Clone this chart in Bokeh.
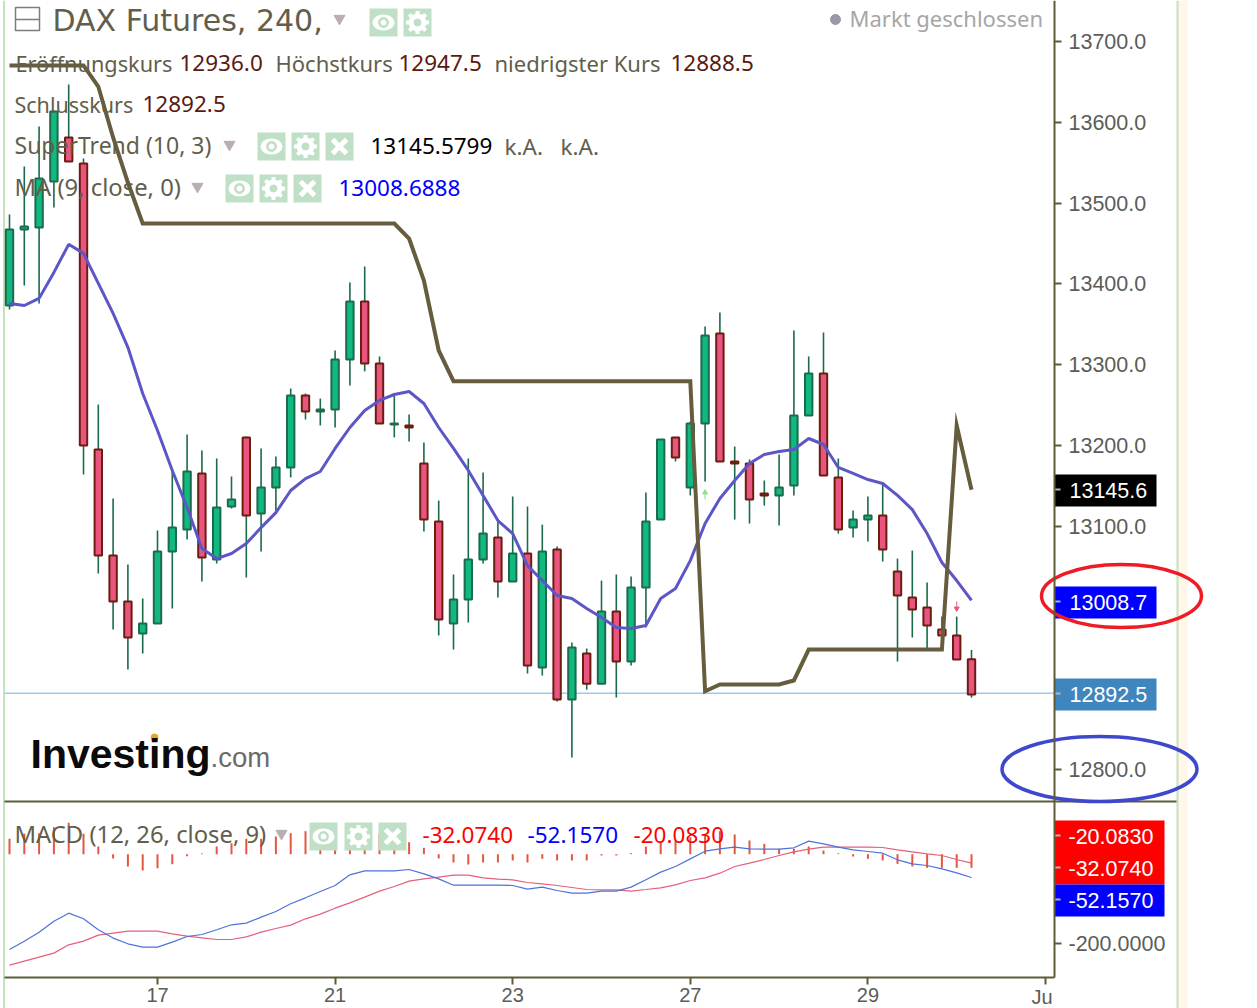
from bokeh.plotting import figure
from bokeh.embed import file_html
from bokeh.resources import INLINE
from bokeh.models import Range1d, LinearAxis, FixedTicker, Label

# ---------- data ----------
open_ = [13373.3,13467.3,13469.7,13526.6,13581.0,13548.8,13195.3,13064.2,13007.4,12967.8,12980.2,13069.2,13096.4,13165.7,13059.3,13124.8,13210.2,13116.1,13148.4,13173.1,13262.1,13242.3,13244.8,13306.6,13378.3,13301.7,13226.2,13225.0,13178.0,13106.3,12980.2,13009.8,13059.3,13086.5,13032.1,13066.7,12925.8,13071.6,12886.2,12943.1,12905.9,12995.0,12933.2,13024.7,13108.7,13210.2,13148.4,13227.5,13338.7,13180.5,13178.0,13140.9,13138.5,13150.8,13237.4,13289.2,13160.7,13098.8,13108.7,13113.7,13044.4,13012.3,12999.9,12972.8,12965.4,12936.0]
high = [13485.8,13545.1,13594.6,13614.3,13646.5,13555.0,13251.0,13134.8,13053.1,13011.1,13095.1,13169.4,13213.9,13194.1,13184.2,13162.0,13211.4,13196.6,13186.7,13270.7,13264.5,13258.2,13317.7,13401.7,13421.5,13310.3,13264.5,13238.6,13204.0,13132.2,13040.8,13184.2,13166.9,13107.5,13137.2,13124.8,13102.5,13075.4,12956.7,12949.3,13033.3,13040.8,13038.3,13142.2,13207.7,13210.2,13229.9,13347.4,13364.7,13199.0,13183.0,13157.0,13189.2,13342.4,13310.3,13339.9,13184.2,13119.9,13137.2,13154.5,13060.5,13070.4,13030.9,12988.8,12988.8,12947.5]
low = [13368.4,13398.0,13375.8,13494.4,13551.3,13164.4,13042.0,12972.8,12923.3,12943.1,12980.2,12998.7,13084.0,13032.1,13054.3,13122.3,13037.0,13069.2,13116.1,13160.7,13232.4,13225.0,13222.5,13274.4,13291.8,13227.5,13210.2,13205.2,13093.9,12965.4,12948.0,12981.4,13054.3,13012.3,13032.1,12918.4,12915.9,12883.8,12814.5,12898.4,12905.9,12888.7,12928.3,12975.2,13108.7,13180.5,13138.5,13155.8,13180.5,13108.7,13103.8,13126.0,13101.3,13138.5,13237.4,13163.2,13091.4,13086.5,13081.5,13056.8,12933.2,12962.9,12949.3,12950.5,12935.7,12888.5]
close = [13467.3,13471.0,13530.3,13613.1,13551.3,13200.3,13064.2,13007.4,12962.9,12980.2,13069.2,13098.8,13168.1,13061.7,13123.5,13133.5,13113.7,13148.4,13173.1,13262.1,13242.3,13244.8,13306.6,13378.3,13301.7,13227.5,13227.5,13222.5,13108.7,12985.1,13009.8,13059.3,13091.4,13032.1,13066.7,12928.3,13069.2,12886.2,12950.5,12905.9,12995.0,12933.2,13024.7,13106.3,13207.7,13185.5,13227.5,13336.3,13180.5,13178.0,13133.5,13138.5,13148.4,13237.4,13289.2,13163.2,13096.4,13108.7,13113.7,13071.6,13014.8,12997.5,12977.7,12965.4,12935.7,12892.5]
ma = [13375.8,13373.3,13382.1,13414.2,13448.9,13437.7,13400.7,13363.6,13321.6,13264.5,13218.8,13169.4,13123.5,13072.9,13060.5,13066.7,13079.0,13098.8,13117.3,13144.6,13159.4,13168.1,13196.6,13222.5,13243.5,13255.9,13263.3,13267.0,13252.2,13222.5,13196.6,13169.4,13138.5,13107.5,13091.4,13051.8,13033.3,13014.8,13011.1,12998.7,12987.6,12975.2,12974.0,12977.7,13011.1,13023.5,13058.0,13103.8,13134.8,13157.0,13178.0,13189.2,13192.8,13195.3,13208.9,13201.5,13173.1,13165.7,13158.2,13153.3,13138.5,13121.0,13091.4,13055.6,13033.3,13008.7]
supertrend = [13670.0,13670.0,13670.0,13670.0,13670.0,13670.0,13644.0,13581.0,13525.3,13474.6,13474.6,13474.6,13474.6,13474.6,13474.6,13474.6,13474.6,13474.6,13474.6,13474.6,13474.6,13474.6,13474.6,13474.6,13474.6,13474.6,13474.6,13456.1,13404.2,13317.7,13279.7,13279.7,13279.7,13279.7,13279.7,13279.7,13279.7,13279.7,13279.7,13279.7,13279.7,13279.7,13279.7,13279.7,13279.7,13279.7,13279.7,12896.5,12904.8,12904.8,12904.8,12904.8,12904.8,12909.8,12948.0,12948.0,12948.0,12948.0,12948.0,12948.0,12948.0,12948.0,12948.0,12948.0,13225.0,13145.6]
macd_line = [-213.4,-194.8,-174.6,-150.0,-132.1,-144.7,-169.3,-187.9,-200.7,-208.2,-208.2,-197.0,-184.3,-179.8,-169.3,-158.1,-154.4,-141.0,-128.3,-111.1,-97.7,-83.5,-70.1,-46.2,-37.3,-37.3,-37.3,-34.3,-44.0,-55.2,-69.4,-69.4,-69.4,-69.4,-70.1,-78.3,-73.8,-81.3,-87.3,-87.3,-82.8,-82.8,-73.8,-57.4,-40.2,-27.5,-10.4,6.8,12.0,15.8,12.0,11.3,11.3,14.3,29.2,23.2,15.8,9.8,6.0,2.3,-12.6,-21.6,-25.3,-32.8,-41.7,-52.2]
signal_line = [-248.5,-239.6,-230.6,-221.6,-203.0,-194.8,-181.3,-176.8,-172.4,-172.4,-172.4,-178.3,-183.6,-187.3,-191.0,-191.0,-185.1,-174.6,-166.4,-158.9,-144.7,-134.3,-120.9,-108.9,-96.2,-82.8,-72.3,-60.4,-55.2,-51.4,-47.0,-47.0,-52.9,-55.9,-57.4,-63.4,-66.4,-70.1,-74.6,-79.1,-79.8,-79.8,-82.8,-79.1,-75.3,-68.6,-58.9,-52.9,-42.5,-27.5,-20.1,-11.9,-2.9,5.3,11.3,15.8,15.8,15.8,15.8,15.0,9.8,5.3,0.8,-2.9,-11.9,-20.1]
hist = [34.4,45.6,47.1,60.5,70.2,45.6,17.2,-9.6,-27.5,-36.5,-31.3,-22.3,-4.4,1.5,17.2,24.7,34.4,34.4,39.6,47.1,51.6,51.6,53.1,62.0,58.3,44.1,34.4,26.9,14.3,-9.6,-18.6,-23.1,-18.6,-18.6,-14.1,-18.6,-10.4,-14.1,-14.1,-14.1,-2.9,-2.9,2.3,17.2,26.9,30.7,38.1,45.6,51.6,44.1,30.7,23.2,12.0,12.0,17.2,8.3,2.0,-5.2,-10.4,-14.1,-21.6,-27.5,-30.5,-30.5,-30.5,-30.5]
price_ticks = [13700,13600,13500,13400,13300,13200,13100,12800]
date_ticks = {10:"17",22:"21",34:"23",46:"27",58:"29",70:""}

# ---------- pixel helpers for annotations ----------
W, H = 1257, 1008
def X(px): return (px-9)/14.8
def Y(py): return 13700-(py-40.7)/0.809
def MY(py): return (853.7-py)/0.4465

OLIVE = "#5f5a38"; GREY = "#625e4c"; TXT = "#5c5c58"; DKRED = "#5a1a10"
SANS = "Noto Sans"; ARIAL = "Liberation Sans"; ICON = "#bfe0c6"

p = figure(width=W, height=H, output_backend="svg", toolbar_location=None,
           x_range=Range1d(X(0),X(W)), y_range=Range1d(Y(H),Y(0)),
           x_axis_type=None, y_axis_type=None, min_border=0,
           outline_line_color=None, background_fill_color="white",
           styles={"position":"absolute","left":"0px","top":"0px"})
p.grid.visible = False
p.extra_y_ranges = {"macd": Range1d(MY(H),MY(0))}

# side strips
p.quad(left=[X(1177)],right=[X(1187)],top=[Y(0)],bottom=[Y(H)],fill_color="#fff7ea",line_color=None)
p.segment([X(3.5),X(1177)],[Y(0),Y(0)],[X(3.5),X(1177)],[Y(H),Y(H)],line_color="#c4e2bc",line_width=2)

# last-price line
p.segment([X(4)],[Y(692.8)],[X(1054)],[Y(692.8)],line_color="#a0c9ee",line_width=1.5)

# candles
idx = list(range(len(close)))
up = [c>=o for o,c in zip(open_,close)]
p.segment(idx,high,idx,low,line_color="#1b6b4a",line_width=1.6)
for flag,fill,edge in ((True,"#0fb97f","#1d6b4c"),(False,"#e9557f","#6d1d10")):
    ii=[i for i in idx if up[i]==flag]
    p.vbar(x=ii,width=0.5,top=[max(open_[i],close[i]) for i in ii],
           bottom=[min(open_[i],close[i]) for i in ii],fill_color=fill,line_color=edge,line_width=2)

p.line(idx,ma,line_color="#5c56c6",line_width=3)
p.line(idx,supertrend,line_color="#655d3e",line_width=4,line_join="miter")

# signals
p.segment([47],[Y(490)],[47],[Y(499)],line_color="#9be39b",line_width=1.2)
p.scatter([47],[Y(492)],marker="triangle",size=5,color="#8fe08f")
p.segment([64],[Y(601)],[64],[Y(610)],line_color="#ee7a98",line_width=1.2)
p.scatter([64],[Y(608)],marker="inverted_triangle",size=5,color="#e85a78")

# MACD pane
p.segment(idx,[0]*len(idx),idx,hist,y_range_name="macd",line_color="#e2583e",line_width=2)
p.line(idx,signal_line,y_range_name="macd",line_color="#e4607c",line_width=1.2)
p.line(idx,macd_line,y_range_name="macd",line_color="#4f72d8",line_width=1.2)

# pane divider
p.segment([X(4)],[Y(801)],[X(1176)],[Y(801)],line_color=OLIVE,line_width=2)

# axis value boxes
def box(x0,x1,y0,y1,c):
    p.quad(left=[X(x0)],right=[X(x1)],top=[Y(y0)],bottom=[Y(y1)],fill_color=c,line_color=None)
box(1054,1156,474,506,"#000000")
box(1054,1156,586,618,"#0000ff")
box(1054,1156,678,710,"#3f86bf")
box(1054,1164,820,884,"#ff0000")
box(1054,1164,884,916,"#0000ff")

# axes
price_ax = LinearAxis(ticker=FixedTicker(ticks=price_ticks),fixed_location=X(1054),
    major_label_overrides={t:f"{t:.1f}" for t in price_ticks},bounds=(Y(801),Y(0)))
macd_ax = LinearAxis(y_range_name="macd",ticker=FixedTicker(ticks=[-200]),fixed_location=X(1054),
    major_label_overrides={-200:"-200.0000"},bounds=(MY(977),MY(801)))
date_ax = LinearAxis(ticker=FixedTicker(ticks=list(date_ticks)),fixed_location=Y(977),
    major_label_overrides=date_ticks,bounds=(X(4),X(1054)))
for ax in (price_ax,macd_ax,date_ax):
    ax.axis_line_color=OLIVE; ax.axis_line_width=2
    ax.major_tick_line_color=OLIVE; ax.major_tick_line_width=2
    ax.major_tick_out=7; ax.major_tick_in=0; ax.minor_tick_line_color=None
    ax.major_label_text_font=ARIAL; ax.major_label_text_font_size="21.5px"
    ax.major_label_text_color=TXT; ax.major_label_standoff=7
date_ax.major_label_text_font_size="20px"; date_ax.major_label_standoff=3
p.add_layout(price_ax,"right"); p.add_layout(macd_ax,"right"); p.add_layout(date_ax,"below")

# grey ticks of the value boxes
tick_y=[489,601,693,835,867,899]
p.segment([X(1054)]*6,[Y(v) for v in tick_y],[X(1060)]*6,[Y(v) for v in tick_y],line_color="#b5b5b5",line_width=2)

# ellipses
p.ellipse(x=[X(1121)],y=[Y(595.5)],width=[160],height=[63],width_units="screen",height_units="screen",
          fill_color=None,line_color="#ee1c25",line_width=3.5)
p.ellipse(x=[X(1099)],y=[Y(768.5)],width=[195],height=[65],width_units="screen",height_units="screen",
          fill_color=None,line_color="#3f48cc",line_width=3.5)

# header decorations
p.quad(left=[X(15)],right=[X(39)],top=[Y(7)],bottom=[Y(30)],fill_color=None,line_color="#7d7d7d",line_width=1.5)
p.segment([X(15)],[Y(19)],[X(39)],[Y(19)],line_color="#7d7d7d",line_width=1.5)
tri_x=[339,229,197,281]; tri_y=[18,144,186,833]
p.scatter([X(v) for v in tri_x],[Y(v) for v in tri_y],marker="inverted_triangle",size=11,color="#b9aeb0")
p.scatter([X(835)],[Y(19)],marker="circle",size=10,color="#9d96a8")

def icon(x,y,kind):
    p.quad(left=[X(x)],right=[X(x+28)],top=[Y(y)],bottom=[Y(y+28)],fill_color=ICON,line_color=None)
    cx,cy=[X(x+14)],[Y(y+14)]
    if kind=="eye":
        p.ellipse(cx,cy,width=[22],height=[16],width_units="screen",height_units="screen",fill_color="white",line_color=None)
        p.scatter(cx,cy,marker="circle",size=10,color=ICON)
        p.scatter(cx,cy,marker="circle",size=5,color="white")
    elif kind=="gear":
        p.scatter(cx,cy,marker="asterisk",size=23,line_color="white",line_width=4)
        p.scatter(cx,cy,marker="circle",size=17,color="white")
        p.scatter(cx,cy,marker="circle",size=7,color=ICON)
    else:
        p.scatter(cx,cy,marker="x",size=20,line_color="white",line_width=5)
for x,y,k in [(369,8,"eye"),(403,8,"gear"),(257,132,"eye"),(291,132,"gear"),(325,132,"x"),
              (225,174,"eye"),(259,174,"gear"),(293,174,"x"),(309,822,"eye"),(344,822,"gear"),(378,822,"x")]:
    icon(x,y,k)

# logo dot
p.scatter([X(154)],[Y(737)],marker="circle",size=7,color="#e8a61e")

# texts
def txt(x,y,s,c=GREY,size=22.5,font=SANS,style="normal",align="left"):
    p.add_layout(Label(x=X(x),y=Y(y),text=s,text_color=c,text_font=font,text_font_size=f"{size}px",
                       text_font_style=style,text_align=align,text_baseline="middle"))
txt(52,20,"DAX Futures, 240,",size=30,font="DejaVu Sans")
txt(849,17.5,"Markt geschlossen",c="#a6a6a6",size=22)
txt(15,62.5,"Eröffnungskurs",size=21.7); txt(179,62.5,"12936.0",c=DKRED)
txt(275,62.5,"Höchstkurs",size=22); txt(398,62.5,"12947.5",c=DKRED)
txt(494,62.5,"niedrigster Kurs",size=22); txt(670,62.5,"12888.5",c=DKRED)
txt(14,103.5,"Schlusskurs",size=21.5); txt(142,103.5,"12892.5",c=DKRED)
txt(14,144.5,"SuperTrend (10, 3)",size=23); txt(370,145.5,"13145.5799",c="#000000")
txt(504,145.5,"k.A."); txt(560,145.5,"k.A.")
txt(14,186.5,"MA (9, close, 0)",size=23.8); txt(338,187.5,"13008.6888",c="#0000ff")
txt(14,833.5,"MACD (12, 26, close, 9)",size=23.8)
txt(422,834.5,"-32.0740",c="#ff0000"); txt(527,834.5,"-52.1570",c="#0000ff"); txt(633,834.5,"-20.0830",c="#ff0000")
txt(30,753,"Investing",c="#0b0b0b",size=41,font=ARIAL,style="bold")
txt(210,757,".com",c="#6a6a6a",size=27.5,font=ARIAL)
for y,s in [(490,"13145.6"),(602,"13008.7"),(694,"12892.5")]:
    txt(1069,y,s,c="white",size=21.5,font=ARIAL)
for y,s in [(836,"-20.0830"),(868,"-32.0740"),(900,"-52.1570")]:
    txt(1068,y,s,c="white",size=21.5,font=ARIAL)
txt(1031,996,"Ju",c=TXT,size=20,font=ARIAL)

open("out.html","w").write(file_html(p,INLINE))
